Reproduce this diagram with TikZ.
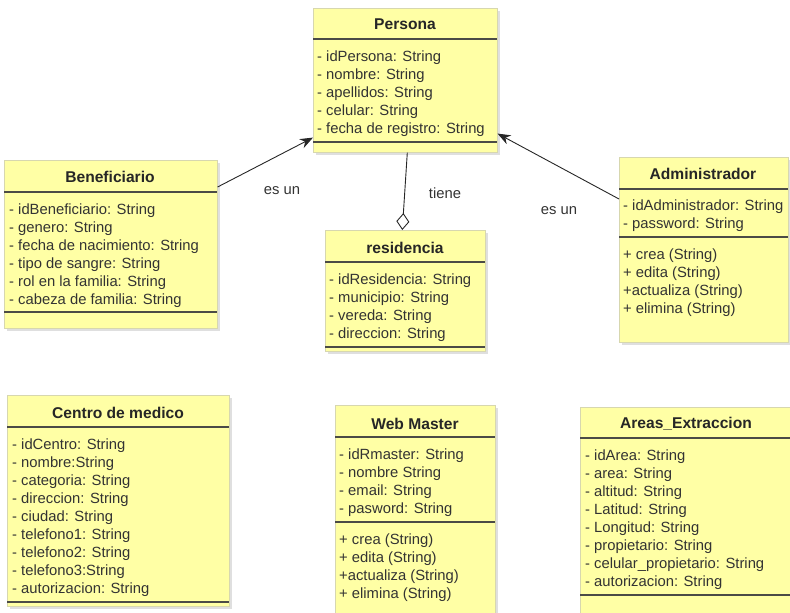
\documentclass[tikz,border=0pt]{standalone}
\usepackage{fontspec}
\setmainfont{Liberation Sans}
\usetikzlibrary{arrows.meta,shadows}

\definecolor{umlfill}{RGB}{255,255,165}
\definecolor{umledge}{RGB}{215,215,175}
\definecolor{umlline}{RGB}{75,75,70}

\begin{document}
\begin{tikzpicture}[
  x=1pt, y=-1pt,
  umlclass/.style = {draw=umledge, fill=umlfill, line width=0.6pt, anchor=north west,
    inner sep=0pt, drop shadow={shadow xshift=2.5pt, shadow yshift=-2.5pt, fill=black!25}},
  umlname/.style = {font=\bfseries\fontsize{15.6}{18}\selectfont, text=black!85},
  umlattr/.style = {anchor=north west, align=left, inner sep=0pt,
    font=\fontsize{14.8}{17.9}\selectfont, text=black!80},
  umlsep/.style = {umlline, line width=1.5pt},
  umlgen/.style = {-{Stealth[length=13pt,width=10pt]}, line width=0.9pt, black!85},
  umlagg/.style = {{Diamond[open,length=17pt,width=13pt]}-, line width=0.9pt, black!85},
  umllbl/.style = {font=\fontsize{14.8}{17.9}\selectfont, text=black!80}
]
  \useasboundingbox (0,0) rectangle (790,613);

  % Persona
  \begin{scope}[shift={(313,8)}]
    \node[umlclass, minimum width=184pt, minimum height=144pt] (persona) at (0,0) {};
    \node[umlname] (persona-name) at (92,16) {Persona};
    \draw[umlsep] (0,31) -- (184,31);
    \node[umlattr] (persona-attr) at (4,43) {- idPersona: String\\- nombre: String\\- apellidos: String\\- celular: String\\- fecha de registro: String};
    \draw[umlsep] (0,134) -- (184,134);
  \end{scope}

  % Beneficiario
  \begin{scope}[shift={(4,160)}]
    \node[umlclass, minimum width=213pt, minimum height=168pt] (beneficiario) at (0,0) {};
    \node[umlname] (beneficiario-name) at (106,17) {Beneficiario};
    \draw[umlsep] (0,32) -- (213,32);
    \node[umlattr] (beneficiario-attr) at (5,44) {- idBeneficiario: String\\- genero: String\\- fecha de nacimiento: String\\- tipo de sangre: String\\- rol en la familia: String\\- cabeza de familia: String};
    \draw[umlsep] (0,152) -- (213,152);
  \end{scope}

  % Administrador
  \begin{scope}[shift={(619,157)}]
    \node[umlclass, minimum width=169pt, minimum height=185pt] (admin) at (0,0) {};
    \node[umlname] (admin-name) at (84,17) {Administrador};
    \draw[umlsep] (0,32) -- (169,32);
    \node[umlattr] (admin-attr) at (4,43) {- idAdministrador: String\\- password: String};
    \draw[umlsep] (0,80) -- (169,80);
    \node[umlattr] (admin-ops) at (4,92) {+ crea (String)\\+ edita (String)\\+actualiza (String)\\+ elimina (String)};
  \end{scope}

  % residencia
  \begin{scope}[shift={(325,230)}]
    \node[umlclass, minimum width=160pt, minimum height=121pt] (residencia) at (0,0) {};
    \node[umlname] (residencia-name) at (80,18) {residencia};
    \draw[umlsep] (0,32) -- (160,32);
    \node[umlattr] (residencia-attr) at (4,44) {- idResidencia: String\\- municipio: String\\- vereda: String\\- direccion: String};
    \draw[umlsep] (0,117) -- (160,117);
  \end{scope}

  % Centro de medico
  \begin{scope}[shift={(7,395)}]
    \node[umlclass, minimum width=222pt, minimum height=211pt] (centro) at (0,0) {};
    \node[umlname] (centro-name) at (111,18) {Centro de medico};
    \draw[umlsep] (0,32) -- (222,32);
    \node[umlattr] (centro-attr) at (5,44) {- idCentro: String\\- nombre:String\\- categoria: String\\- direccion: String\\- ciudad: String\\- telefono1: String\\- telefono2: String\\- telefono3:String\\- autorizacion: String};
    \draw[umlsep] (0,207) -- (222,207);
  \end{scope}

  % Web Master
  \begin{scope}[shift={(335,405)}]
    \node[umlclass, minimum width=160pt, minimum height=215pt] (webmaster) at (0,0) {};
    \node[umlname] (webmaster-name) at (80,19) {Web Master};
    \draw[umlsep] (0,32) -- (160,32);
    \node[umlattr] (webmaster-attr) at (4,44) {- idRmaster: String\\- nombre String\\- email: String\\- pasword: String};
    \draw[umlsep] (0,117) -- (160,117);
    \node[umlattr] (webmaster-ops) at (4,129) {+ crea (String)\\+ edita (String)\\+actualiza (String)\\+ elimina (String)};
  \end{scope}

  % Areas_Extraccion
  \begin{scope}[shift={(580,407)}]
    \node[umlclass, minimum width=215pt, minimum height=215pt] (areas) at (0,0) {};
    \node[umlname] (areas-name) at (106,17) {Areas\_Extraccion};
    \draw[umlsep] (0,31) -- (215,31);
    \node[umlattr] (areas-attr) at (5,43) {- idArea: String\\- area: String\\- altitud: String\\- Latitud: String\\- Longitud: String\\- propietario: String\\- celular\_propietario: String\\- autorizacion: String};
    \draw[umlsep] (0,188) -- (215,188);
  \end{scope}

  % relaciones
  \draw[umlgen] ([yshift=-27pt]beneficiario.north east) -- ([yshift=15pt]persona.south west);
  \draw[umlgen] ([yshift=-42pt]admin.north west) -- ([yshift=19pt]persona.south east);
  \draw[umlagg] ([xshift=-3pt]residencia.north) -- ([xshift=2pt]persona.south);

  \node[umllbl] (lbl-benef) at (282,191) {es un};
  \node[umllbl] (lbl-resid) at (445,193) {tiene};
  \node[umllbl] (lbl-admin) at (559,211) {es un};
\end{tikzpicture}
\end{document}
